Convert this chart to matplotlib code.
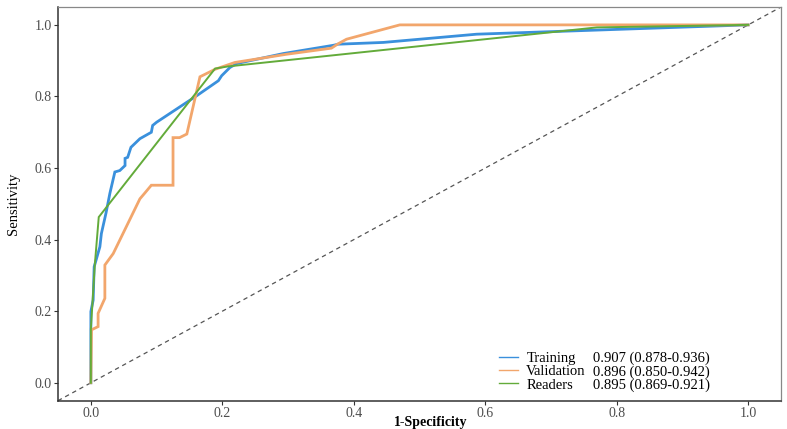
import matplotlib

matplotlib.use("Agg")
import matplotlib.pyplot as plt
from matplotlib.lines import Line2D


# ROC curves
TRAIN_FPR = [0.0, 0.0, 0.0035, 0.005, 0.0137, 0.016, 0.023, 0.029, 0.0365, 0.044, 0.052,
             0.052, 0.056, 0.061, 0.0746, 0.092, 0.094, 0.1, 0.161, 0.194, 0.199, 0.2116,
             0.222, 0.293, 0.369, 0.376, 0.445, 0.587, 1.0]
TRAIN_TPR = [0.0, 0.199, 0.231, 0.324, 0.38, 0.417, 0.474, 0.53, 0.589, 0.593, 0.607,
             0.627, 0.63, 0.658, 0.682, 0.70, 0.719, 0.728, 0.802, 0.844, 0.858, 0.881,
             0.892, 0.92, 0.943, 0.946, 0.951, 0.974, 1.0]

VALID_FPR = [0.0, 0.001, 0.011, 0.011, 0.0213, 0.0213, 0.034, 0.0746, 0.082, 0.092, 0.125,
             0.125, 0.135, 0.146, 0.166, 0.189, 0.219, 0.298, 0.366, 0.376, 0.389, 0.47, 1.0]
VALID_TPR = [0.0, 0.148, 0.157, 0.194, 0.236, 0.329, 0.361, 0.514, 0.53, 0.552, 0.552,
             0.685, 0.685, 0.695, 0.855, 0.876, 0.895, 0.918, 0.935, 0.947, 0.96, 1.0, 1.0]

READER_FPR = [0.0, 0.0, 0.006, 0.012, 0.189, 0.209, 0.77, 1.0]
READER_TPR = [0.0, 0.15, 0.33, 0.463, 0.878, 0.884, 0.993, 1.0]

SERIES_NAMES = ["Training", "Validation", "Readers"]
AUC_LABELS = ["0.907 (0.878-0.936)", "0.896 (0.850-0.942)", "0.895 (0.869-0.921)"]
COLORS = ["#3A90DC", "#F2A66C", "#63AB3A"]
TICKS = [0.0, 0.2, 0.4, 0.6, 0.8, 1.0]

SERIF = ["Liberation Serif", "DejaVu Serif"]

fig = plt.figure(figsize=(7.87, 4.29), dpi=100)
ax = fig.add_axes([0.0737, 0.066, 0.9187, 0.9177])

ax.axline((0, 0), (1, 1), color="#555555", linestyle=(0, (3.5, 3)), linewidth=0.9)

curves = [(TRAIN_FPR, TRAIN_TPR), (VALID_FPR, VALID_TPR), (READER_FPR, READER_TPR)]
widths = [2.0, 2.0, 1.4]
for (fpr, tpr), color, lw in zip(curves, COLORS, widths):
    ax.plot(fpr, tpr, color=color, linewidth=lw, solid_joinstyle="miter")

ax.set_xlim(-0.05, 1.05)
ax.set_ylim(-0.05, 1.05)
ax.set_xticks(TICKS)
ax.set_yticks(TICKS)
ax.set_xticklabels([f"{t:.1f}" for t in TICKS], family=SERIF, fontsize=10, color="#4D4D4D")
ax.set_yticklabels([f"{t:.1f}" for t in TICKS], family=SERIF, fontsize=10, color="#4D4D4D")
ax.tick_params(length=3, width=0.8, color="#333333", pad=1.5)

for side in ["left", "bottom"]:
    ax.spines[side].set_color("#333333")
    ax.spines[side].set_linewidth(1.1)
for side in ["top", "right"]:
    ax.spines[side].set_color("#888888")
    ax.spines[side].set_linewidth(0.9)

ax.set_xlabel("1-Specificity", family=SERIF, fontsize=10, fontweight="bold")
ax.xaxis.set_label_coords(0.515, -0.038)
ax.set_ylabel("Sensitivity", family=SERIF, fontsize=10.5)
ax.yaxis.set_label_coords(-0.053, 0.5)

handles = [Line2D([], [], color=c, linewidth=1.0) for c in COLORS]
blanks = [Line2D([], [], linestyle="none") for _ in AUC_LABELS]
leg = ax.legend(
    handles + blanks,
    SERIES_NAMES + AUC_LABELS,
    ncol=2,
    loc="lower right",
    bbox_to_anchor=(0.92, -0.012),
    frameon=False,
    prop={"family": SERIF, "size": 10.5},
    handlelength=1.3,
    handletextpad=0.6,
    columnspacing=-1.4,
    labelspacing=0.0,
)

fig.savefig("out.png", dpi=100)
